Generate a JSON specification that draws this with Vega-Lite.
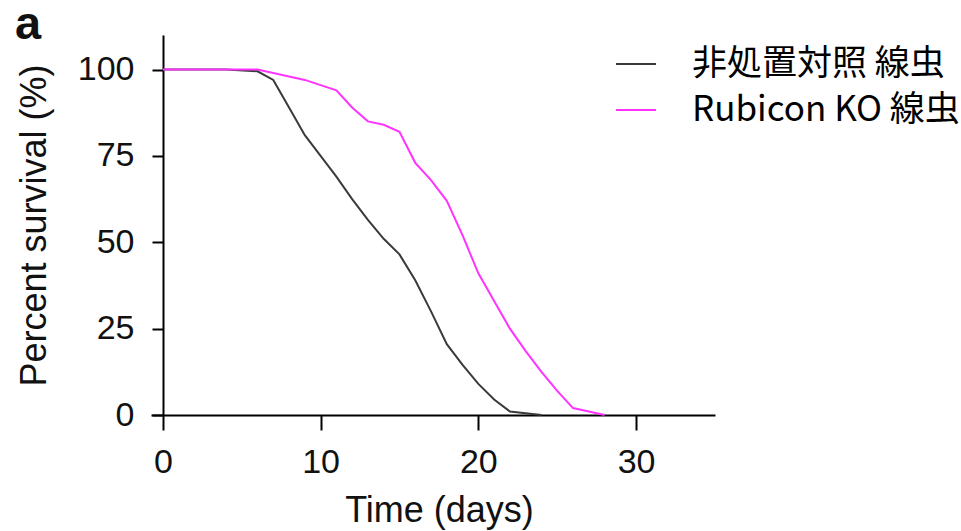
{
  "$schema": "https://vega.github.io/schema/vega-lite/v6.json",
  "autosize": "none",
  "width": 564,
  "height": 380,
  "padding": {"left": 151, "top": 35, "right": 246, "bottom": 116},
  "background": "white",
  "title": {"text": "a", "anchor": "start", "frame": "group", "font": "Liberation Sans", "fontSize": 47, "fontWeight": "bold", "color": "#111", "dx": -136, "offset": -14},
  "data": {"values": [
    {"group": "非処置対照 線虫", "day": 0, "survival": 100},
    {"group": "非処置対照 線虫", "day": 4, "survival": 100},
    {"group": "非処置対照 線虫", "day": 6, "survival": 99.5},
    {"group": "非処置対照 線虫", "day": 7, "survival": 97},
    {"group": "非処置対照 線虫", "day": 8, "survival": 89},
    {"group": "非処置対照 線虫", "day": 9, "survival": 81},
    {"group": "非処置対照 線虫", "day": 10, "survival": 75},
    {"group": "非処置対照 線虫", "day": 11, "survival": 69},
    {"group": "非処置対照 線虫", "day": 12, "survival": 62.5},
    {"group": "非処置対照 線虫", "day": 13, "survival": 56.5},
    {"group": "非処置対照 線虫", "day": 14, "survival": 51},
    {"group": "非処置対照 線虫", "day": 15, "survival": 46.5},
    {"group": "非処置対照 線虫", "day": 16, "survival": 39},
    {"group": "非処置対照 線虫", "day": 17, "survival": 30},
    {"group": "非処置対照 線虫", "day": 18, "survival": 20.5},
    {"group": "非処置対照 線虫", "day": 19, "survival": 14.5},
    {"group": "非処置対照 線虫", "day": 20, "survival": 9},
    {"group": "非処置対照 線虫", "day": 21, "survival": 4.5},
    {"group": "非処置対照 線虫", "day": 22, "survival": 1},
    {"group": "非処置対照 線虫", "day": 24, "survival": 0},
    {"group": "Rubicon KO 線虫", "day": 0, "survival": 100},
    {"group": "Rubicon KO 線虫", "day": 6, "survival": 100},
    {"group": "Rubicon KO 線虫", "day": 7, "survival": 99},
    {"group": "Rubicon KO 線虫", "day": 8, "survival": 98},
    {"group": "Rubicon KO 線虫", "day": 9, "survival": 97},
    {"group": "Rubicon KO 線虫", "day": 10, "survival": 95.5},
    {"group": "Rubicon KO 線虫", "day": 11, "survival": 94},
    {"group": "Rubicon KO 線虫", "day": 12, "survival": 89},
    {"group": "Rubicon KO 線虫", "day": 13, "survival": 85},
    {"group": "Rubicon KO 線虫", "day": 14, "survival": 84},
    {"group": "Rubicon KO 線虫", "day": 15, "survival": 82},
    {"group": "Rubicon KO 線虫", "day": 16, "survival": 73},
    {"group": "Rubicon KO 線虫", "day": 17, "survival": 68},
    {"group": "Rubicon KO 線虫", "day": 18, "survival": 62},
    {"group": "Rubicon KO 線虫", "day": 19, "survival": 52},
    {"group": "Rubicon KO 線虫", "day": 20, "survival": 41},
    {"group": "Rubicon KO 線虫", "day": 21, "survival": 33},
    {"group": "Rubicon KO 線虫", "day": 22, "survival": 25},
    {"group": "Rubicon KO 線虫", "day": 23, "survival": 18.5},
    {"group": "Rubicon KO 線虫", "day": 24, "survival": 12.5},
    {"group": "Rubicon KO 線虫", "day": 25, "survival": 7},
    {"group": "Rubicon KO 線虫", "day": 26, "survival": 2},
    {"group": "Rubicon KO 線虫", "day": 27, "survival": 1},
    {"group": "Rubicon KO 線虫", "day": 28, "survival": 0}
  ]},
  "mark": {"type": "line", "strokeWidth": 2, "interpolate": "linear"},
  "encoding": {
    "x": {"field": "day", "type": "quantitative",
      "scale": {"domain": [-0.75, 35], "nice": false, "zero": false},
      "axis": {"values": [0, 10, 20, 30], "title": "Time (days)", "grid": false,
        "domainColor": "#000", "domainWidth": 2, "tickColor": "#000", "tickWidth": 2, "tickSize": 15,
        "labelFont": "Liberation Sans", "labelFontSize": 34, "labelColor": "#111", "labelPadding": 15,
        "titleFont": "Liberation Sans", "titleFontSize": 36, "titleFontWeight": "normal", "titleColor": "#111", "titlePadding": 14, "titleX": 288}},
    "y": {"field": "survival", "type": "quantitative",
      "scale": {"domain": [0, 110], "nice": false},
      "axis": {"values": [0, 25, 50, 75, 100], "title": "Percent survival (%)", "grid": false, "offset": -12,
        "domainColor": "#000", "domainWidth": 2, "tickColor": "#000", "tickWidth": 2, "tickSize": 11,
        "labelFont": "Liberation Sans", "labelFontSize": 34, "labelColor": "#111", "labelPadding": 18,
        "titleFont": "Liberation Sans", "titleFontSize": 36, "titleFontWeight": "normal", "titleColor": "#111", "titlePadding": 24}},
    "color": {"field": "group", "type": "nominal",
      "scale": {"domain": ["非処置対照 線虫", "Rubicon KO 線虫"], "range": ["#3a3a3a", "#ff33ff"]},
      "legend": {"title": null, "orient": "none", "legendX": 464, "legendY": 8,
        "symbolType": "stroke", "symbolSize": 1600, "symbolStrokeWidth": 2,
        "labelFont": "Noto Sans CJK JP", "labelFontSize": 35, "labelColor": "#000", "labelOffset": 35, "rowPadding": 7, "labelLimit": 400}}
  },
  "config": {"view": {"stroke": null}}
}
